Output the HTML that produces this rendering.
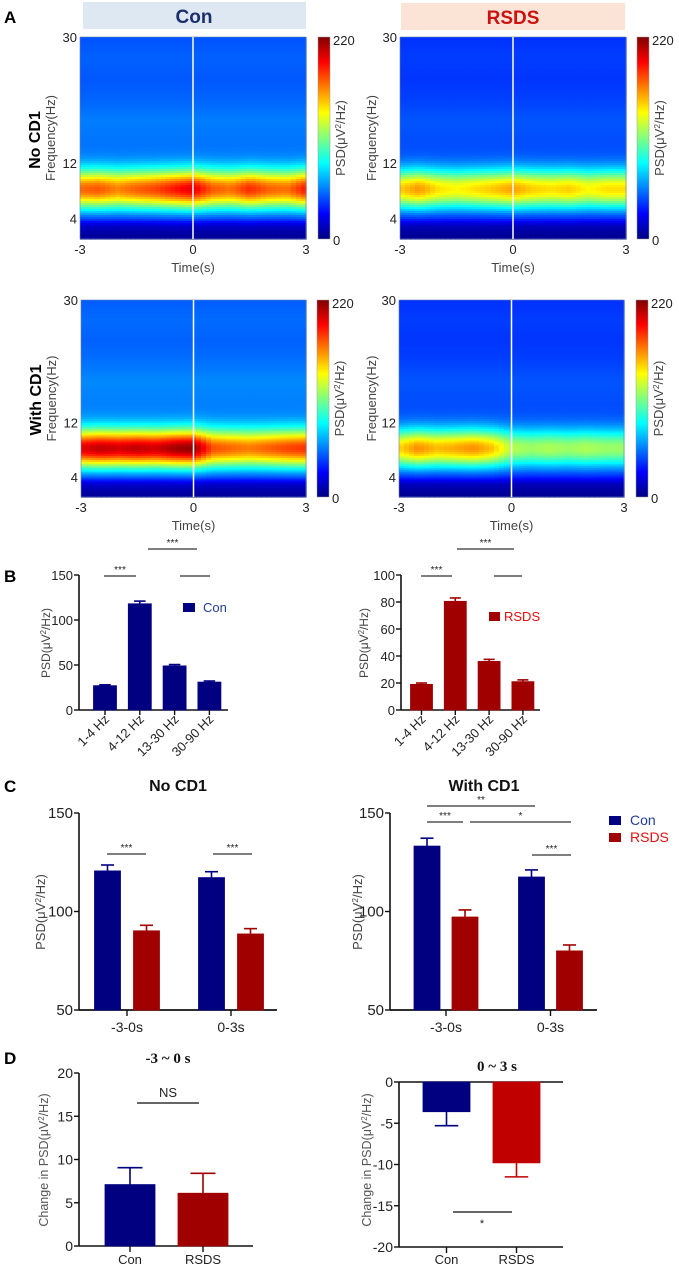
<!DOCTYPE html>
<html><head><meta charset="utf-8">
<style>
html,body{margin:0;padding:0;background:#fff;}
svg{display:block;font-family:"Liberation Sans",Arial,sans-serif;}
</style></head>
<body>
<svg id="fig" xmlns="http://www.w3.org/2000/svg" width="679" height="1269" viewBox="0 0 679 1269">
<defs>
<linearGradient id="jetgrad" x1="0" y1="1" x2="0" y2="0">
<stop offset="0" stop-color="#000080"/><stop offset="0.125" stop-color="#0000ff"/>
<stop offset="0.375" stop-color="#00ffff"/><stop offset="0.625" stop-color="#ffff00"/>
<stop offset="0.875" stop-color="#ff0000"/><stop offset="1" stop-color="#800000"/>
</linearGradient>
</defs>
<text x="4" y="23" font-size="17" font-weight="bold">A</text>
<text x="4" y="582" font-size="17" font-weight="bold">B</text>
<text x="4" y="792" font-size="17" font-weight="bold">C</text>
<text x="4" y="1064" font-size="17" font-weight="bold">D</text>
<rect x="83" y="2" width="223" height="27" fill="#dde8f3"/>
<text x="194" y="23" font-size="19" font-weight="bold" fill="#1b2f6e" text-anchor="middle">Con</text>
<rect x="401" y="3" width="224" height="27" fill="#fbe4d5"/>
<text x="513" y="24" font-size="19" font-weight="bold" fill="#cc1111" text-anchor="middle">RSDS</text>
<text transform="translate(40,140) rotate(-90)" font-size="16" font-weight="bold" text-anchor="middle">No CD1</text>
<text transform="translate(41,400) rotate(-90)" font-size="16" font-weight="bold" text-anchor="middle">With CD1</text>
<g id="charts"></g>
</svg>
<script>
// ---------- Spectrogram data ----------
const specTimes = [-3,-2.5,-2,-1.5,-1,-0.5,0,0.5,1,1.5,2,2.5,3];
const bgFreqs = [1,2,3,3.5,4,5,6,8,10,12,15,18,21,24,27,30];
const bgVals  = [4,7,12,20,30,38,42,44,46,48,50,52,47,44,46,43];
const peakConNo    = [170,174,164,172,178,188,198,174,168,184,172,168,188];
const peakRsdsNo   = [148,160,144,138,144,150,158,148,144,148,138,144,144];
const peakConWith  = [198,206,202,206,202,212,216,176,170,166,172,178,182];
const peakRsdsWith = [146,162,152,156,162,150,122,116,120,116,120,116,116];
const bgScaleArr = [1.05, 0.88, 1.1, 0.88];
const cbMax = 220;

// ---------- Bar chart data ----------
const bCats = ['1-4 Hz','4-12 Hz','13-30 Hz','30-90 Hz'];
const bConVals = [27,118,49,31];
const bConErr = [1,3,1.5,1.2];
const bRsdsVals = [19,80.5,36,21];
const bRsdsErr = [1,2.5,1.5,1.3];
const bConTicks = [0,50,100,150];
const bRsdsTicks = [0,20,40,60,80,100];
const cGroups = ['-3-0s','0-3s'];
const cNoCon = [120.6,117.2];
const cNoConErr = [3,3];
const cNoRsds = [90.2,88.6];
const cNoRsdsErr = [2.8,2.7];
const cWithCon = [133.2,117.5];
const cWithConErr = [4,3.6];
const cWithRsds = [97.2,80];
const cWithRsdsErr = [3.6,3];
const cTicks = [50,100,150];
const dCats = ['Con','RSDS'];
const dPreVals = [7.1,6.1];
const dPreErr = [1.95,2.3];
const dPostVals = [-3.6,-9.8];
const dPostErr = [1.7,1.7];
const dPreTicks = [0,5,10,15,20];
const dPostTicks = [0,-5,-10,-15,-20];

const NS = 'http://www.w3.org/2000/svg';
const root = document.getElementById('charts');
function mk(tag, attrs, name, parent){
  const el = document.createElementNS(NS, tag);
  for (const k in attrs) el.setAttribute(k, attrs[k]);
  
  
  (parent || root).appendChild(el);
  return el;
}
function txt(x, y, s, size, extra, name, parent){
  const a = Object.assign({x:x, y:y, 'font-size':size, fill:'#222'}, extra||{});
  const el = mk('text', a, name, parent);
  el.textContent = s;
  return el;
}
function psdLabel(x, y, size, name, prefix){
  const el = mk('text', {transform:'translate('+x+','+y+') rotate(-90)', 'font-size':size, fill:'#444', 'text-anchor':'middle'}, name);
  const t1 = document.createElementNS(NS,'tspan'); t1.textContent = (prefix||'') + 'PSD(\u03bcV';
  const t2 = document.createElementNS(NS,'tspan'); t2.setAttribute('dy','-4'); t2.setAttribute('font-size', size*0.65); t2.textContent = '2';
  const t3 = document.createElementNS(NS,'tspan'); t3.setAttribute('dy','4'); t3.textContent = '/Hz)';
  el.appendChild(t1); el.appendChild(t2); el.appendChild(t3);
  return el;
}
function interp(xs, ys, x){
  if (x <= xs[0]) return ys[0];
  for (let i=1;i<xs.length;i++){
    if (x <= xs[i]){ const f=(x-xs[i-1])/(xs[i]-xs[i-1]); return ys[i-1]+f*(ys[i]-ys[i-1]); }
  }
  return ys[ys.length-1];
}
function clamp(v){ return Math.max(0, Math.min(1, v)); }
function jet(v){
  const t = clamp(v / cbMax);
  const r = clamp(1.5 - Math.abs(4*t-3)), g = clamp(1.5 - Math.abs(4*t-2)), b = clamp(1.5 - Math.abs(4*t-1));
  return 'rgb('+Math.round(r*255)+','+Math.round(g*255)+','+Math.round(b*255)+')';
}

function spectrogram(cfg, peaks, bgScale, name){
  const g = mk('g', {}, name);
  const fTop = 30, fBot = 1.1, fc = 8.2, wBand = 2.8;
  const xS = t => cfg.x + (t + 3) / 6 * cfg.w;
  const yS = f => cfg.y + (fTop - f) / (fTop - fBot) * cfg.h;
  const nCols = 45, nRows = 101;
  const cw = cfg.w / nCols, rh = cfg.h / nRows;
  const bgAt = f => interp(bgFreqs, bgVals, f) * bgScale;
  for (let c=0;c<nCols;c++){
    const t = -3 + (c+0.5)/nCols*6;
    const pk = interp(specTimes, peaks, t);
    const amp = Math.max(0, pk - bgAt(fc));
    for (let r=0;r<nRows;r++){
      const f = fTop - (r+0.5)/nRows*(fTop-fBot);
      const v = bgAt(f) + amp*Math.exp(-Math.pow((f-fc)/wBand,2));
      const cell = mk('rect', {x:(cfg.x+c*cw).toFixed(2), y:(cfg.y+r*rh).toFixed(2), width:(cw+0.6).toFixed(2), height:(rh+0.6).toFixed(2), fill:jet(v)}, 'heatmap-cell', g);
    }
  }
  mk('rect', {x:cfg.x, y:cfg.y, width:cfg.w, height:cfg.h, fill:'none', stroke:'#6a7fb0', 'stroke-width':0.6}, 'plot-border', g);
  mk('line', {x1:xS(0), x2:xS(0), y1:cfg.y, y2:cfg.y+cfg.h, stroke:'#fff', 'stroke-width':1.5}, 'time-zero-line', g);
  [30,12,4].forEach(f => { txt(cfg.x-3, yS(f)+5, String(f), 13, {'text-anchor':'end'}, 'freq-tick-label', g); });
  [-3,0,3].forEach(t => { txt(xS(t), cfg.y+cfg.h+15, String(t), 13, {'text-anchor':'middle'}, 'time-tick-label', g); });
  txt(cfg.x+cfg.w/2, cfg.y+cfg.h+33, 'Time(s)', 13, {'text-anchor':'middle', fill:'#444'}, 'x-axis-title', g);
  txt(0,0,'Frequency(Hz)',13,{transform:'translate('+cfg.fl+','+(cfg.y+cfg.h/2)+') rotate(-90)','text-anchor':'middle',fill:'#444'},'y-axis-title',g);
  mk('rect', {x:cfg.cb, y:cfg.y, width:12, height:cfg.h, fill:'url(#jetgrad)', stroke:'#999', 'stroke-width':0.5}, 'colorbar', g);
  txt(cfg.cb+15, cfg.y+8, '220', 13, {}, 'colorbar-max-label', g);
  txt(cfg.cb+15, cfg.y+cfg.h+6, '0', 13, {}, 'colorbar-min-label', g);
  psdLabel(cfg.cb+27, cfg.y+cfg.h/2, 13, 'colorbar-title');
}
spectrogram({x:80,y:37,w:226,h:202,cb:318,fl:55}, peakConNo, bgScaleArr[0], 'spectrogram-con-no-cd1');
spectrogram({x:400,y:37,w:226,h:202,cb:637,fl:376}, peakRsdsNo, bgScaleArr[1], 'spectrogram-rsds-no-cd1');
spectrogram({x:81,y:300,w:225,h:197,cb:317,fl:56}, peakConWith, bgScaleArr[2], 'spectrogram-con-with-cd1');
spectrogram({x:399,y:300,w:225,h:197,cb:636,fl:376}, peakRsdsWith, bgScaleArr[3], 'spectrogram-rsds-with-cd1');

// ---------- bar chart helper ----------
function axes(cfg){
  const yS = v => cfg.yB - (v - cfg.vmin)/(cfg.vmax - cfg.vmin)*(cfg.yB - cfg.yT);
  mk('line', {x1:cfg.x0, x2:cfg.x0, y1:cfg.yT, y2:cfg.yB, stroke:'#111', 'stroke-width':1.6}, 'y-axis-line');
  cfg.ticks.forEach(v => {
    mk('line', {x1:cfg.x0-5, x2:cfg.x0, y1:yS(v), y2:yS(v), stroke:'#111', 'stroke-width':1.4}, 'y-tick');
    txt(cfg.x0-6, yS(v)+5, String(v), cfg.fs, {'text-anchor':'end'}, 'y-tick-label');
  });
  return yS;
}
function bar(yS, cx, w, v, err, base, color, name){
  const y1 = yS(Math.max(v, base)), y2 = yS(Math.min(v, base));
  mk('rect', {x:cx-w/2, y:y1, width:w, height:y2-y1, fill:color, stroke:color, 'stroke-width':0.8}, name);
  const ye = v >= base ? yS(v+err) : yS(v-err);
  const yv = yS(v);
  mk('line', {x1:cx, x2:cx, y1:yv, y2:ye, stroke:color, 'stroke-width':1.6}, 'error-bar');
  mk('line', {x1:cx-w*0.25, x2:cx+w*0.25, y1:ye, y2:ye, stroke:color, 'stroke-width':1.6}, 'error-cap');
}
function sig(x1, x2, y, label, name){
  mk('line', {x1:x1, x2:x2, y1:y, y2:y, stroke:'#333', 'stroke-width':1.2}, name);
  if (label) txt((x1+x2)/2, y-3, label, 10, {'text-anchor':'middle'}, name+'-label');
}
const NAVY = '#000080', RED = '#a00000';

// B left
{
  const yS = axes({x0:79, yT:575, yB:710, vmin:0, vmax:150, ticks:bConTicks, fs:13});
  mk('line', {x1:79, x2:228, y1:710, y2:710, stroke:'#111', 'stroke-width':1.6}, 'x-axis-line');
  bCats.forEach((c,i) => {
    const cx = 105 + i*34.8;
    bar(yS, cx, 23, bConVals[i], bConErr[i], 0, NAVY, 'bar-con-'+i);
    mk('line', {x1:cx, x2:cx, y1:710, y2:715, stroke:'#111', 'stroke-width':1.4}, 'x-tick');
    txt(0,0,c,13,{transform:'translate('+(cx+5)+',720) rotate(-45)','text-anchor':'end'},'x-tick-label');
  });
  sig(104,136,576,'***','sig-line'); sig(180,210,576,'','sig-line'); sig(148,197,549,'***','sig-line');
  mk('rect', {x:183, y:603, width:12, height:9, fill:NAVY}, 'legend-swatch-con');
  txt(203, 612, 'Con', 13, {fill:'#223d99'}, 'legend-label-con');
  psdLabel(50, 643, 12, 'y-axis-title');
}
// B right
{
  const yS = axes({x0:401, yT:575, yB:710, vmin:0, vmax:100, ticks:bRsdsTicks, fs:13});
  mk('line', {x1:401, x2:540, y1:710, y2:710, stroke:'#111', 'stroke-width':1.6}, 'x-axis-line');
  bCats.forEach((c,i) => {
    const cx = 421.5 + i*33.8;
    bar(yS, cx, 22, bRsdsVals[i], bRsdsErr[i], 0, RED, 'bar-rsds-'+i);
    mk('line', {x1:cx, x2:cx, y1:710, y2:715, stroke:'#111', 'stroke-width':1.4}, 'x-tick');
    txt(0,0,c,13,{transform:'translate('+(cx+5)+',720) rotate(-45)','text-anchor':'end'},'x-tick-label');
  });
  sig(421,452,576,'***','sig-line'); sig(494,522,576,'','sig-line'); sig(457,514,549,'***','sig-line');
  mk('rect', {x:489, y:612, width:11, height:9, fill:RED}, 'legend-swatch-rsds');
  txt(504, 621, 'RSDS', 13, {fill:'#e01010'}, 'legend-label-rsds');
  psdLabel(368, 643, 12, 'y-axis-title');
}
// C left
{
  const yS = axes({x0:79, yT:813, yB:1010, vmin:50, vmax:150, ticks:cTicks, fs:15});
  mk('line', {x1:79, x2:277, y1:1010, y2:1010, stroke:'#111', 'stroke-width':1.8}, 'x-axis-line');
  cGroups.forEach((gname,i) => {
    const gx = 127 + i*104;
    bar(yS, gx-19.5, 26, cNoCon[i], cNoConErr[i], 50, NAVY, 'bar-con-'+gname);
    bar(yS, gx+19.5, 26, cNoRsds[i], cNoRsdsErr[i], 50, RED, 'bar-rsds-'+gname);
    mk('line', {x1:gx, x2:gx, y1:1010, y2:1016, stroke:'#111', 'stroke-width':1.4}, 'x-tick');
    txt(gx, 1032, gname, 14, {'text-anchor':'middle'}, 'x-tick-label');
  });
  sig(107,146,854,'***','sig-line'); sig(213,252,854,'***','sig-line');
  txt(178, 791, 'No CD1', 16, {'text-anchor':'middle', 'font-weight':'bold', fill:'#111'}, 'chart-title');
  psdLabel(45, 912, 13, 'y-axis-title');
}
// C right
{
  const yS = axes({x0:390, yT:813, yB:1010, vmin:50, vmax:150, ticks:cTicks, fs:15});
  mk('line', {x1:390, x2:597, y1:1010, y2:1010, stroke:'#111', 'stroke-width':1.8}, 'x-axis-line');
  cGroups.forEach((gname,i) => {
    const gx = 446 + i*104.5;
    bar(yS, gx-19, 26, cWithCon[i], cWithConErr[i], 50, NAVY, 'bar-con-'+gname);
    bar(yS, gx+19, 26, cWithRsds[i], cWithRsdsErr[i], 50, RED, 'bar-rsds-'+gname);
    mk('line', {x1:gx, x2:gx, y1:1010, y2:1016, stroke:'#111', 'stroke-width':1.4}, 'x-tick');
    txt(gx, 1032, gname, 14, {'text-anchor':'middle'}, 'x-tick-label');
  });
  sig(427,535,806,'**','sig-line'); sig(427,463,822,'***','sig-line'); sig(470,571,822,'*','sig-line'); sig(532,571,855,'***','sig-line');
  txt(484, 791, 'With CD1', 16, {'text-anchor':'middle', 'font-weight':'bold', fill:'#111'}, 'chart-title');
  mk('rect', {x:609, y:816, width:12, height:9, fill:NAVY}, 'legend-swatch-con');
  txt(630, 825, 'Con', 14, {fill:'#223d99'}, 'legend-label-con');
  mk('rect', {x:609, y:833, width:12, height:9, fill:RED}, 'legend-swatch-rsds');
  txt(630, 842, 'RSDS', 14, {fill:'#e01010'}, 'legend-label-rsds');
  psdLabel(362, 912, 13, 'y-axis-title');
}
// D left
{
  const yS = axes({x0:79, yT:1073, yB:1246, vmin:0, vmax:20, ticks:dPreTicks, fs:14});
  mk('line', {x1:79, x2:253, y1:1246, y2:1246, stroke:'#111', 'stroke-width':1.6}, 'x-axis-line');
  const cols = [NAVY, RED];
  dCats.forEach((c,i) => {
    const cx = 130 + i*73;
    bar(yS, cx, 50, dPreVals[i], dPreErr[i], 0, cols[i], 'bar-'+c.toLowerCase());
    mk('line', {x1:cx, x2:cx, y1:1246, y2:1252, stroke:'#111', 'stroke-width':1.4}, 'x-tick');
    txt(cx, 1264, c, 13, {'text-anchor':'middle'}, 'x-tick-label');
  });
  mk('line', {x1:137, x2:199, y1:1103, y2:1103, stroke:'#333', 'stroke-width':1.4}, 'sig-line');
  txt(168, 1097, 'NS', 13, {'text-anchor':'middle'}, 'sig-label');
  txt(168, 1063, '-3 ~  0 s', 15, {'text-anchor':'middle','font-weight':'bold','font-family':'Liberation Serif, serif', fill:'#111'}, 'chart-title');
  const yl = mk('text', {transform:'translate(48,1160) rotate(-90)', 'font-size':12.5, fill:'#555', 'text-anchor':'middle'}, 'y-axis-title');
  yl.innerHTML = '<tspan>Change in PSD(\u03bcV</tspan><tspan dy="-4" font-size="8">2</tspan><tspan dy="4">/Hz)</tspan>';
}
// D right
{
  const yS = axes({x0:399, yT:1082, yB:1247, vmin:-20, vmax:0, ticks:dPostTicks, fs:14});
  mk('line', {x1:399, x2:563, y1:1082, y2:1082, stroke:'#111', 'stroke-width':1.6}, 'zero-line');
  mk('line', {x1:399, x2:563, y1:1247, y2:1247, stroke:'#111', 'stroke-width':1.6}, 'x-axis-line');
  const cols = [NAVY, '#c00000'];
  dCats.forEach((c,i) => {
    const cx = 446.5 + i*70;
    bar(yS, cx, 47, dPostVals[i], dPostErr[i], 0, cols[i], 'bar-'+c.toLowerCase());
    mk('line', {x1:cx, x2:cx, y1:1247, y2:1253, stroke:'#111', 'stroke-width':1.4}, 'x-tick');
    txt(cx, 1264, c, 13, {'text-anchor':'middle'}, 'x-tick-label');
  });
  mk('line', {x1:453, x2:512, y1:1212, y2:1212, stroke:'#333', 'stroke-width':1.4}, 'sig-line');
  txt(482, 1227, '*', 11, {'text-anchor':'middle'}, 'sig-label');
  txt(497, 1071, '0 ~  3 s', 15, {'text-anchor':'middle','font-weight':'bold','font-family':'Liberation Serif, serif', fill:'#111'}, 'chart-title');
  const yl = mk('text', {transform:'translate(371,1160) rotate(-90)', 'font-size':12.5, fill:'#555', 'text-anchor':'middle'}, 'y-axis-title');
  yl.innerHTML = '<tspan>Change in PSD(\u03bcV</tspan><tspan dy="-4" font-size="8">2</tspan><tspan dy="4">/Hz)</tspan>';
}
</script>
</body></html>
